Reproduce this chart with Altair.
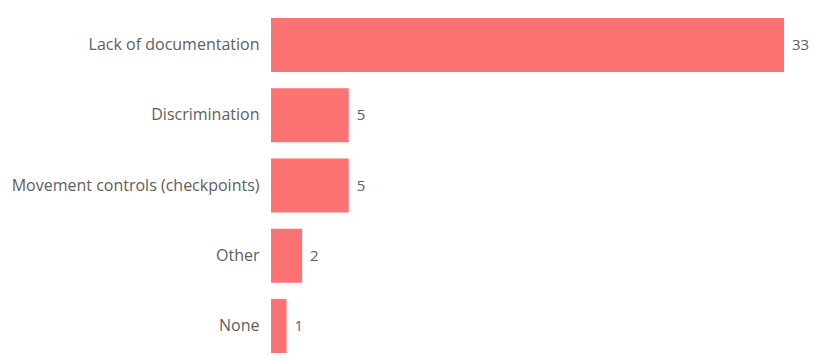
import altair as alt
import pandas as pd

categories = ["Lack of documentation", "Discrimination", "Movement controls (checkpoints)", "Other", "None"]
values = [33, 5, 5, 2, 1]

df = pd.DataFrame({"category": categories, "value": values})

FONT = "Open Sans"
LABEL_COLOR = "#605E5C"

base = alt.Chart(df).encode(
    y=alt.Y("category:N", sort=categories,
            scale=alt.Scale(paddingInner=0.23, paddingOuter=0.0),
            axis=alt.Axis(title=None, domain=False, ticks=False, labelPadding=12,
                          labelFont=FONT, labelFontSize=16, labelColor=LABEL_COLOR,
                          labelLimit=300)),
    x=alt.X("value:Q", scale=alt.Scale(domain=[0, 33], nice=False, zero=True),
            axis=None),
)

bars = base.mark_bar(color="#FD7272")
texts = base.mark_text(align="left", baseline="middle", dx=8, font=FONT,
                       fontSize=15, color=LABEL_COLOR).encode(text="value:Q")

chart = (bars + texts).properties(
    width=513, height=335,
    padding={"left": 263, "top": 10, "right": 28, "bottom": 0},
    autosize=alt.AutoSizeParams(type="none"),
).configure_view(stroke=None)

chart.save("out.html", embed_options={"renderer": "svg", "actions": False})
